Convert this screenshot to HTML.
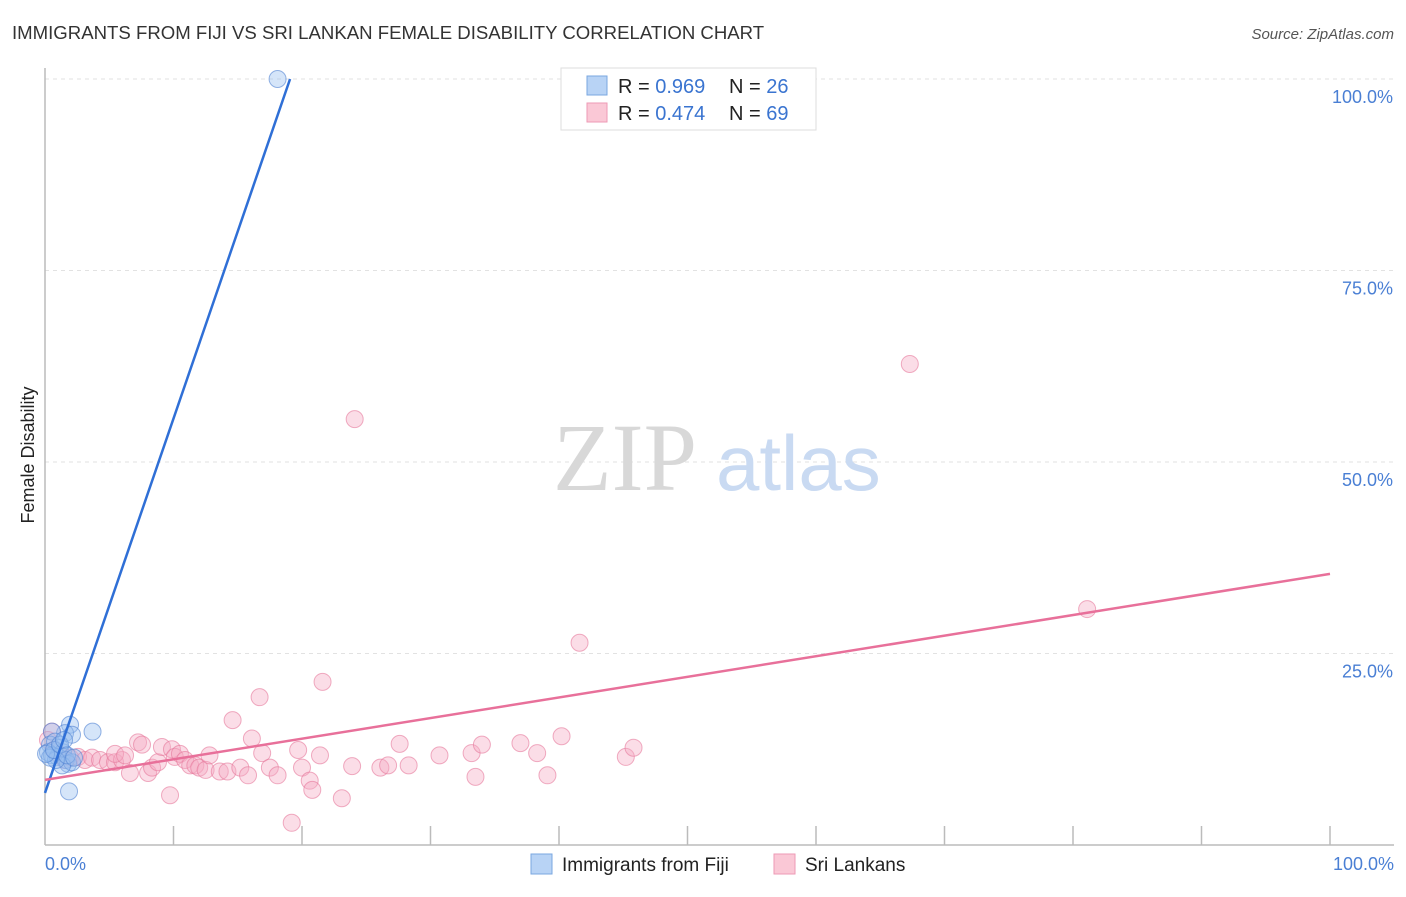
<!DOCTYPE html>
<html><head><meta charset="utf-8"><style>
body{margin:0;background:#fff;font-family:"Liberation Sans",sans-serif;}
svg text{font-family:"Liberation Sans",sans-serif;}
</style></head><body>
<svg width="1406" height="892" xmlns="http://www.w3.org/2000/svg">
<text x="12" y="39" font-size="18.6" fill="#333">IMMIGRANTS FROM FIJI VS SRI LANKAN FEMALE DISABILITY CORRELATION CHART</text>
<text x="1394" y="39" font-size="15" fill="#555" font-style="italic" text-anchor="end">Source: ZipAtlas.com</text>
<g id="grid"></g>
<g id="ticks"></g>
<line x1="45" y1="68" x2="45" y2="845" stroke="#bbb" stroke-width="1.5"/>
<line x1="45" y1="845" x2="1394" y2="845" stroke="#bbb" stroke-width="1.5"/>
<text x="553" y="490" font-size="96" fill="#d8d8d8" style="font-family:'Liberation Serif',serif">ZIP</text>
<text x="716" y="490" font-size="78" fill="#c9daf2">atlas</text>
<g id="pts"></g>
<g id="lines"></g>
<text transform="translate(34,455) rotate(-90)" font-size="18" fill="#222" text-anchor="middle">Female Disability</text>
<text x="45" y="870" font-size="18" fill="#4a7fd4">0.0%</text>
<text x="1394" y="870" font-size="18" fill="#4a7fd4" text-anchor="end">100.0%</text>
<g>
<rect x="561" y="68" width="255" height="62" fill="#fff" stroke="#ddd"/>
<rect x="587" y="76" width="20" height="19" fill="#b8d3f5" stroke="#7aa7e0"/>
<rect x="587" y="103" width="20" height="19" fill="#fac8d6" stroke="#ee9ab5"/>
<text x="618" y="93" font-size="20" fill="#222">R = <tspan fill="#3a74d0">0.969</tspan></text>
<text x="729" y="93" font-size="20" fill="#222">N = <tspan fill="#3a74d0">26</tspan></text>
<text x="618" y="120" font-size="20" fill="#222">R = <tspan fill="#3a74d0">0.474</tspan></text>
<text x="729" y="120" font-size="20" fill="#222">N = <tspan fill="#3a74d0">69</tspan></text>
</g>
<g>
<rect x="531" y="854" width="21" height="20" fill="#b8d3f5" stroke="#7aa7e0"/>
<text x="562" y="871" font-size="19" fill="#222">Immigrants from Fiji</text>
<rect x="774" y="854" width="21" height="20" fill="#fac8d6" stroke="#ee9ab5"/>
<text x="805" y="871" font-size="19" fill="#222">Sri Lankans</text>
</g>
</svg>
<script>
const yTicks=[25,50,75,100];
const yTickLabels=["25.0%","50.0%","75.0%","100.0%"];
const xTicks=[10,20,30,40,50,60,70,80,90,100];
const fijiX=[18.1,3.7,1.95,1.56,2.1,0.54,0.39,0.78,1.17,1.4,0.23,0.54,1.0,1.63,1.79,2.1,1.33,0.86,0.39,0.08,0.70,1.17,1.48,1.71,1.87,2.26];
const fijiY=[100,14.8,15.7,14.6,14.4,14.8,13.1,13.5,12.7,12.1,12.1,11.7,11.5,11.1,10.6,10.8,10.4,11.1,11.4,11.9,12.4,13.1,13.7,11.7,7.0,11.4];
const sriX=[0.54,0.23,0.78,1.17,1.56,1.95,2.57,3.11,3.66,4.28,4.9,5.45,5.99,6.61,7.24,7.55,8.02,8.33,8.79,9.1,9.73,9.88,10.1,10.5,10.9,11.3,11.7,12.0,12.5,12.8,13.6,14.2,14.6,15.2,15.8,16.1,16.7,16.9,17.5,18.1,19.2,19.7,20.0,20.6,20.8,21.4,21.6,23.1,23.9,24.1,26.1,26.7,27.6,28.3,30.7,33.2,33.5,34.0,37.0,38.3,39.1,40.2,41.6,45.2,45.8,67.3,81.1,5.45,6.23];
const sriY=[14.8,13.7,12.4,11.7,11.1,11.4,11.5,11.1,11.4,11.1,10.8,10.8,11.1,9.4,13.4,13.1,9.4,10.1,10.8,12.8,6.5,12.5,11.5,11.9,11.1,10.4,10.4,10.1,9.8,11.7,9.6,9.6,16.3,10.1,9.1,13.9,19.3,12.0,10.1,9.1,2.9,12.4,10.1,8.4,7.2,11.7,21.3,6.1,10.3,55.6,10.1,10.4,13.2,10.4,11.7,12.0,8.9,13.1,13.3,12.0,9.1,14.2,26.4,11.5,12.7,62.8,30.8,11.9,11.7];
const fijiLine=[[0,6.8],[19.07,100]];
const sriLine=[[0,8.5],[100,35.4]];
const X=v=>45+v*12.85, Y=v=>845-v*7.66;
const NS="http://www.w3.org/2000/svg";
function mk(t,a,p){const e=document.createElementNS(NS,t);for(const k in a)e.setAttribute(k,a[k]);p.appendChild(e);return e;}
const grid=document.getElementById('grid');
yTicks.forEach((t,i)=>{
 const l=mk('line',{x1:45,x2:1394,y1:Y(t),y2:Y(t),stroke:'#e2e2e2','stroke-dasharray':'4,4'},grid);
 
 
 const tx=mk('text',{x:1393,y:Y(t)+24,'font-size':18,fill:'#4a7fd4','text-anchor':'end'},grid);
 tx.textContent=yTickLabels[i];
 
 
});
const tk=document.getElementById('ticks');
xTicks.forEach(t=>{
 const l=mk('line',{x1:X(t),x2:X(t),y1:826,y2:845,stroke:'#bbb','stroke-width':1.5},tk);
 
 
});
const pts=document.getElementById('pts');
sriX.forEach((v,i)=>{
 const c=mk('circle',{cx:X(v),cy:Y(sriY[i]),r:8.5,fill:'rgba(246,170,195,0.4)',stroke:'rgba(230,120,155,0.6)','stroke-width':1},pts);
 
 
});
fijiX.forEach((v,i)=>{
 const c=mk('circle',{cx:X(v),cy:Y(fijiY[i]),r:8.5,fill:'rgba(150,190,240,0.4)',stroke:'rgba(80,130,210,0.6)','stroke-width':1},pts);
 
 
});
const lg=document.getElementById('lines');
const l1=mk('line',{x1:X(fijiLine[0][0]),y1:Y(fijiLine[0][1]),x2:X(fijiLine[1][0]),y2:Y(fijiLine[1][1]),stroke:'#2f6fd6','stroke-width':2.5},lg);


const l2=mk('line',{x1:X(sriLine[0][0]),y1:Y(sriLine[0][1]),x2:X(sriLine[1][0]),y2:Y(sriLine[1][1]),stroke:'#e8709a','stroke-width':2.5},lg);


</script>
</body></html>
